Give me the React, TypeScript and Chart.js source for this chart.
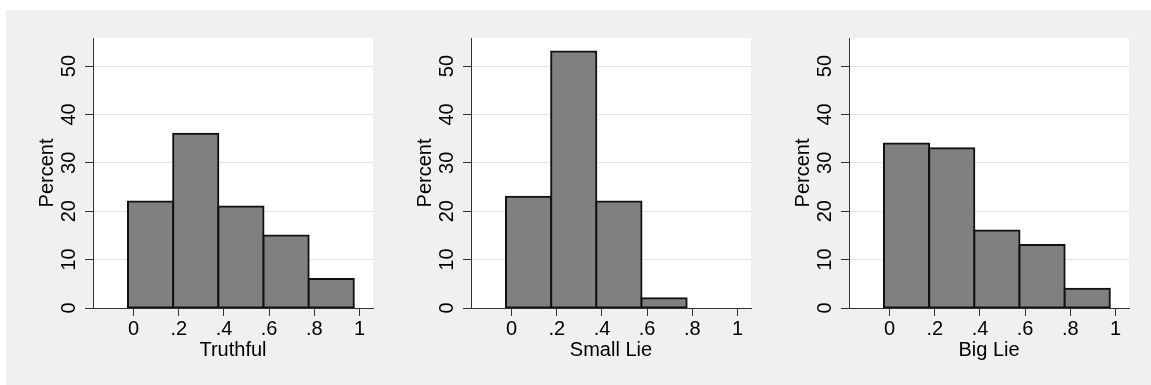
import React, { useEffect, useRef } from 'react';
import { Chart, registerables } from 'chart.js';

Chart.register(...registerables);

const binCenters = [0.075, 0.275, 0.475, 0.675, 0.875];
const truthfulPct = [22, 36, 21, 15, 6];
const smallLiePct = [23, 53, 22, 2, null];
const bigLiePct = [34, 33, 16, 13, 4];
const panelTitles = ['Truthful', 'Small Lie', 'Big Lie'];
const xTickValues = [0, 0.2, 0.4, 0.6, 0.8, 1];
const xTickLabels = ['0', '.2', '.4', '.6', '.8', '1'];
const yTickValues = [0, 10, 20, 30, 40, 50];
const yTickLabels = ['0', '10', '20', '30', '40', '50'];
const yAxisTitle = 'Percent';

const FONT = '20px "Liberation Sans", Arial, Helvetica, sans-serif';
const CANVAS_H = 375;

type PanelProps = {
  left: number;
  width: number;
  plotLeft: number;
  plotRight: number;
  values: (number | null)[];
  title: string;
};

function Panel({ left, width, plotLeft, plotRight, values, title }: PanelProps) {
  const ref = useRef<HTMLCanvasElement | null>(null);

  useEffect(() => {
    if (!ref.current) return;
    const labelPlugin = {
      id: 'stataLabels',
      beforeDraw(chart: any) {
        const { ctx, chartArea: a } = chart;
        ctx.save();
        ctx.fillStyle = '#ffffff';
        ctx.fillRect(a.left, a.top, a.right - a.left, a.bottom - a.top);
        ctx.restore();
      },
      afterDraw(chart: any) {
        const { ctx, chartArea: a, scales } = chart;
        ctx.save();
        ctx.font = FONT;
        ctx.fillStyle = '#000000';
        ctx.textAlign = 'center';
        ctx.textBaseline = 'alphabetic';
        xTickValues.forEach((v, i) => {
          ctx.fillText(xTickLabels[i], scales.x.getPixelForValue(v), a.bottom + 27);
        });
        ctx.fillText(title, (a.left + a.right) / 2, a.bottom + 48);
        yTickValues.forEach((v, i) => {
          ctx.save();
          ctx.translate(a.left - 18, scales.y.getPixelForValue(v));
          ctx.rotate(-Math.PI / 2);
          ctx.fillText(yTickLabels[i], 0, 0);
          ctx.restore();
        });
        ctx.save();
        ctx.translate(a.left - 40, (a.top + a.bottom) / 2);
        ctx.rotate(-Math.PI / 2);
        ctx.fillText(yAxisTitle, 0, 0);
        ctx.restore();
        ctx.restore();
      },
    };

    const chart = new Chart(ref.current, {
      type: 'bar',
      data: {
        datasets: [
          {
            data: binCenters.map((x, i) => ({ x, y: values[i] })) as any,
            backgroundColor: '#808080',
            borderColor: '#111111',
            borderWidth: 2,
            borderSkipped: false,
            inflateAmount: 1,
            barPercentage: 1,
            categoryPercentage: 1,
          } as any,
        ],
      },
      options: {
        animation: false,
        responsive: false,
        maintainAspectRatio: false,
        events: [],
        layout: { padding: { top: 28, right: width - plotRight, left: 0, bottom: 0 } },
        plugins: { legend: { display: false }, tooltip: { enabled: false } },
        scales: {
          x: {
            type: 'linear',
            offset: false,
            min: -0.18,
            max: 1.06,
            afterBuildTicks: (s: any) => {
              s.ticks = xTickValues.map((value) => ({ value }));
            },
            afterFit: (s: any) => {
              s.height = CANVAS_H - 298;
            },
            ticks: { display: false },
            grid: { offset: false, drawOnChartArea: false, tickLength: 8, tickColor: '#333333', tickWidth: 1 },
            border: { color: '#333333', width: 1 },
          },
          y: {
            type: 'linear',
            min: 0,
            max: 55.8,
            afterBuildTicks: (s: any) => {
              s.ticks = yTickValues.map((value) => ({ value }));
            },
            afterFit: (s: any) => {
              s.width = plotLeft;
            },
            ticks: { display: false },
            grid: { color: '#e2e2e2', tickLength: 8, tickColor: '#333333', lineWidth: 1 },
            border: { color: '#333333', width: 1 },
          },
        },
      } as any,
      plugins: [labelPlugin],
    });
    return () => chart.destroy();
  }, []);

  return (
    <canvas
      ref={ref}
      width={width}
      height={CANVAS_H}
      style={{ position: 'absolute', left, top: 10, width, height: CANVAS_H }}
    />
  );
}

export default function App() {
  return (
    <div style={{ position: 'absolute', left: 0, top: 0, width: 1151, height: 385, background: '#ffffff', overflow: 'hidden' }}>
      <div style={{ position: 'absolute', left: 6, top: 10, width: 1145, height: 375, background: '#f0f0f0' }} />
      <Panel left={6} width={374} plotLeft={87} plotRight={367} values={truthfulPct} title={panelTitles[0]} />
      <Panel left={380} width={380} plotLeft={91} plotRight={371} values={smallLiePct} title={panelTitles[1]} />
      <Panel left={760} width={391} plotLeft={89} plotRight={369} values={bigLiePct} title={panelTitles[2]} />
    </div>
  );
}
